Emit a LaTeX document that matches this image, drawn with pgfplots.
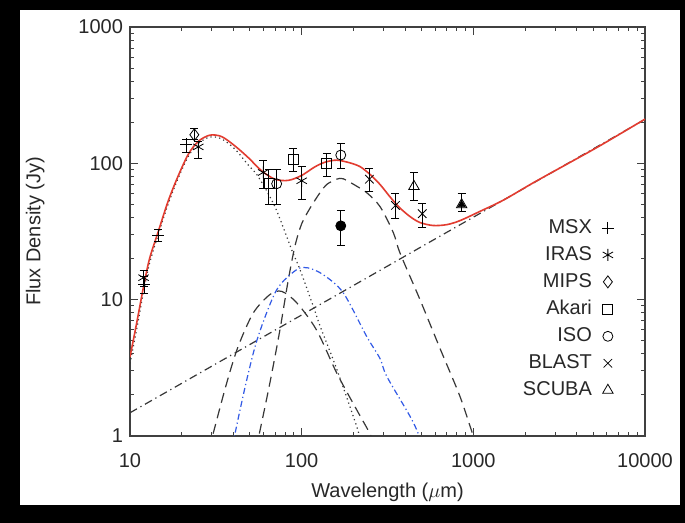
\documentclass[border=0pt]{standalone}
\usepackage{fontspec}
\setmainfont{Liberation Sans}
\usepackage{pgfplots}
\pgfplotsset{compat=1.18}

\definecolor{fitred}{RGB}{226,60,48}
\definecolor{compblue}{RGB}{50,90,230}
\definecolor{compgray}{RGB}{55,55,55}
\definecolor{txt}{RGB}{40,40,40}

\begin{document}
\begin{tikzpicture}[font=\fontsize{10}{12}\selectfont]
% screenshot frame
\fill[black] (-65pt,-43.5pt) rectangle (277.5pt,218pt);
\fill[white] (-55pt,-34.5pt) rectangle (275pt,213pt);
\path[use as bounding box] (-65pt,-43.5pt) rectangle (277.5pt,218pt);
\begin{axis}[
  at={(0,0)}, anchor=south west,
  scale only axis, width=257.5pt, height=204.5pt,
  xmode=log, ymode=log,
  xmin=10, xmax=10000, ymin=1, ymax=1000,
  xtick={10,100,1000,10000}, xticklabels={10,100,1000,10000},
  ytick={1,10,100,1000}, yticklabels={1,10,100,1000},
  tick align=inside, major tick length=4pt, minor tick length=2pt,
  axis line style={line width=0.6pt, black!75},
  every tick/.style={black!75, line width=0.5pt},
  tick label style={text=txt},
  xticklabel style={yshift=-5pt},
  xlabel={Wavelength ($\mu$m)}, ylabel={Flux Density (Jy)},
  every axis x label/.style={at={(axis description cs:0.5,-0.137)}, anchor=center, text=txt},
  every axis y label/.style={at={(axis description cs:-0.184,0.5)}, rotate=90, anchor=center, text=txt},
  legend style={draw=none, fill=none, at={(axis description cs:0.952,0.55)},
    anchor=north east, row sep=1pt, column sep=3pt, text=txt},
  legend cell align=right,
  legend plot pos=right,
  error bars/error bar style={black, line width=0.5pt},
  error bars/error mark options={black, rotate=90, mark size=2pt, line width=0.5pt},
]

% model components
\addplot[compgray, line width=0.6pt, dash pattern=on 4pt off 2pt on 0.6pt off 2pt, forget plot]
  coordinates {(10,1.48) (10000,210)};
\addplot[compgray, line width=0.6pt, dash pattern=on 0.6pt off 1.6pt, smooth, forget plot]
  coordinates {(10,3.4) (11,6.3) (12,11.5) (13,18.5) (14.6,30) (16.7,50.5) (19.1,78)
    (21.9,113) (25,140) (29.2,156) (34.2,151) (40.9,127) (48.9,97) (55.8,80) (69.9,48)
    (87.5,23.2) (97.8,16.6) (117,8.9) (128,6.4) (160,3.1) (209,1.18) (216,1.0) (225,0.85)};
\addplot[compgray, line width=0.6pt, dash pattern=on 5pt off 3pt, smooth, forget plot]
  coordinates {(54,0.8) (56.3,1.0) (65.3,2.45) (74.7,6.0) (83.6,14) (91.6,25) (100,36)
    (112,47) (128,61) (140,70) (160,76.5) (175,77) (209,68) (239,61) (286,48.2) (342,31)
    (374,22) (489,10) (639,4.4) (836,1.95) (1000,1.0) (1060,0.85)};
\addplot[compgray, line width=0.6pt, dash pattern=on 5pt off 3pt, smooth, forget plot]
  coordinates {(29,0.8) (30.5,1.04) (36.6,2.45) (42.7,4.55) (52.3,8.0) (65.3,10.9)
    (76.5,11.5) (93.5,9.5) (122,6.0) (160,2.9) (209,1.56) (250,1.04) (260,0.9)};
\addplot[compblue, line width=0.6pt, dash pattern=on 3pt off 1.5pt on 0.6pt off 1.5pt, smooth, forget plot]
  coordinates {(40,0.85) (40.9,1.04) (47.9,2.59) (55.8,5.38) (71.5,11.8) (93.5,16.6)
    (109,17.1) (134,15.2) (175,11.2) (239,5.38) (286,3.7) (313,2.74) (427,1.40)
    (478,1.04) (490,0.9)};
% total fit
\addplot[fitred, line width=0.8pt, smooth, forget plot]
  coordinates {(10,3.8) (11,7) (12,12.5) (13,20) (14.6,31.5) (16.7,53) (19.1,81)
    (21.9,117) (25,145) (29.2,161) (34.2,157) (40.9,134) (48.9,110) (58.5,88)
    (69.9,76.5) (83.6,75) (100,81.5) (119,94) (137,102) (160,105.5) (190,101)
    (219,94.5) (250,83) (286,70) (330,56) (374,47) (430,40.5) (489,36.8) (582,35)
    (700,35.5) (836,38) (1092,44.4) (1500,53.8) (2234,72) (3500,98.5) (5458,134.5) (10000,211)};

% photometry
\addplot[black, only marks, mark=+, mark size=3pt, error bars/.cd, y dir=both, y explicit]
  table[x=x, y=y, y error plus=ep, y error minus=em] {
  x     y     ep    em
  12.1  12.9  2.0   1.8
  14.6  29.4  3.2   2.8
  21.2  138   12    18
  };
\addlegendentry{MSX}
\addplot[black, only marks, mark=asterisk, mark size=3pt, error bars/.cd, y dir=both, y explicit]
  table[x=x, y=y, y error plus=ep, y error minus=em] {
  x     y     ep    em
  12.0  14.5  2.0   2.0
  25.0  132   13    23
  59.7  85.7  19    20
  100   74.5  20    20
  };
\addlegendentry{IRAS}
\addplot[black, only marks, mark=diamond, mark size=3pt, error bars/.cd, y dir=both, y explicit]
  table[x=x, y=y, y error plus=ep, y error minus=em] {
  x     y     ep    em
  23.7  162   18    12
  };
\addlegendentry{MIPS}
\addplot[black, only marks, mark=square, mark size=2.5pt, error bars/.cd, y dir=both, y explicit]
  table[x=x, y=y, y error plus=ep, y error minus=em] {
  x     y     ep    em
  64.5  71.6  18    22
  89.3  107   22    20
  140   100   19    20
  };
\addlegendentry{Akari}
\addplot[black, only marks, mark=o, mark size=2.5pt, error bars/.cd, y dir=both, y explicit]
  table[x=x, y=y, y error plus=ep, y error minus=em] {
  x     y     ep    em
  71.5  70.8  19    21
  169   115   24    24
  };
\addlegendentry{ISO}
\addplot[black, only marks, mark=x, mark size=3pt, error bars/.cd, y dir=both, y explicit]
  table[x=x, y=y, y error plus=ep, y error minus=em] {
  x     y     ep    em
  248   76.5  15.8  14.4
  352   49.1  10.7  9.4
  504   42.7  8.3   8.6
  };
\addlegendentry{BLAST}
\addplot[black, only marks, mark=triangle, mark size=3pt, error bars/.cd, y dir=both, y explicit]
  table[x=x, y=y, y error plus=ep, y error minus=em] {
  x     y     ep    em
  451   67.7  18    14.3
  855   49.7  10    5
  };
\addlegendentry{SCUBA}
\addplot[black, only marks, mark=triangle*, mark size=2pt, forget plot]
  coordinates {(855,49.7)};
\addplot[black, only marks, mark=*, mark size=2.5pt, forget plot, error bars/.cd, y dir=both, y explicit]
  table[x=x, y=y, y error plus=ep, y error minus=em] {
  x     y     ep    em
  169   34.8  10.3  9.9
  };
\end{axis}
\end{tikzpicture}
\end{document}
